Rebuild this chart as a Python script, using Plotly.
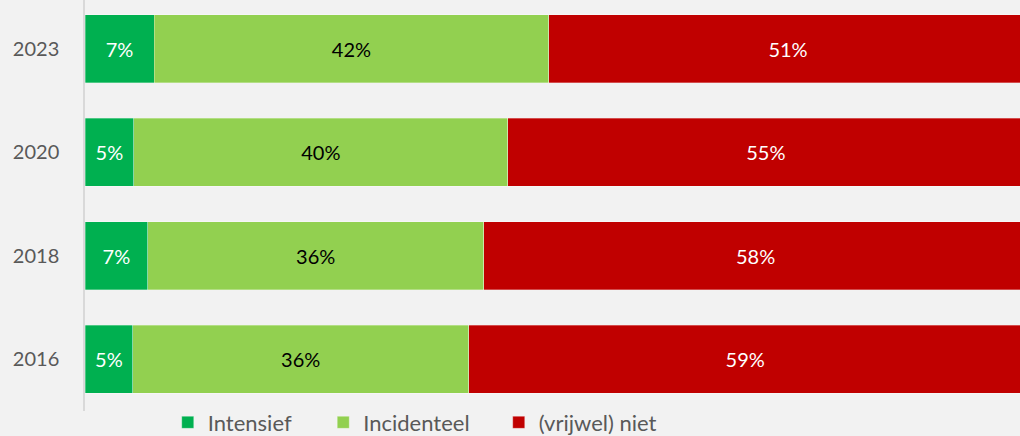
import plotly.graph_objects as go

years = ["2016", "2018", "2020", "2023"]
intensief = [5.1, 6.7, 5.2, 7.36]
incidenteel = [35.8, 35.8, 39.9, 42.1]
niet = [59, 58, 55, 51]

series_names = ["Intensief", "Incidenteel", "(vrijwel) niet"]
colors = ["#00B050", "#92D050", "#C00000"]
text_colors = ["white", "black", "white"]
legend_ids = ["legend", "legend2", "legend3"]

FONT = "Lato, 'Open Sans', sans-serif"

fig = go.Figure()
for name, vals, col, tc, lg in zip(series_names, [intensief, incidenteel, niet], colors, text_colors, legend_ids):
    fig.add_trace(go.Bar(
        y=years, x=vals, name=name, orientation="h",
        marker=dict(color=col, line=dict(color="rgba(255,255,255,0.5)", width=0.6)),
        texttemplate="%{x:.0f}%", textposition="inside", insidetextanchor="middle",
        textfont=dict(color=tc, size=20, family=FONT),
        legend=lg, hoverinfo="skip",
    ))

def leg(x):
    return dict(orientation="h", x=x, xanchor="left", y=-0.028, yanchor="middle",
                font=dict(family=FONT, size=22, color="#595959"),
                bgcolor="rgba(0,0,0,0)", borderwidth=0)

fig.update_layout(
    barmode="stack", bargap=0.343,
    width=1020, height=436,
    margin=dict(l=85, r=0, t=0, b=25, pad=0, autoexpand=False),
    paper_bgcolor="#F2F2F2", plot_bgcolor="#F2F2F2",
    uniformtext=dict(minsize=20, mode="show"),
    showlegend=True,
    legend=leg(0.0885), legend2=leg(0.2548), legend3=leg(0.4425),
    xaxis=dict(range=[0, 99.7], visible=False, fixedrange=True),
    yaxis=dict(categoryorder="array", categoryarray=years, range=[-0.498, 3.473],
               showline=True, linecolor="#D9D9D9", linewidth=1.5, showgrid=False,
               ticks="", ticklabelstandoff=20, fixedrange=True,
               tickfont=dict(family=FONT, size=20, color="#595959")),
)

fig.write_html("out.html", config={"displayModeBar": False},
               post_script="document.body.style.margin='0';document.body.style.background='#F2F2F2';")
